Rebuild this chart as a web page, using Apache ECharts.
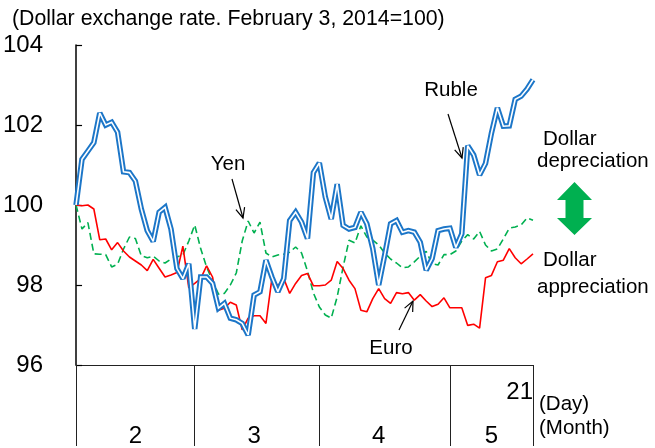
<!DOCTYPE html>
<html>
<head>
<meta charset="utf-8">
<script src="https://cdn.jsdelivr.net/npm/echarts@6/dist/echarts.min.js"></script>
<style>
  html, body { margin: 0; padding: 0; background: #fff; }
  #main { width: 655px; height: 448px; }
</style>
</head>
<body>
<div id="main"></div>
<script>
// trading days, Feb 3 - May 21, 2014
var dates = [
  '2/3','2/4','2/5','2/6','2/7','2/10','2/11','2/12','2/13','2/14','2/17','2/18','2/19','2/20','2/21','2/24','2/25','2/26','2/27','2/28',
  '3/3','3/4','3/5','3/6','3/7','3/10','3/11','3/12','3/13','3/14','3/17','3/18','3/19','3/20','3/21','3/24','3/25','3/26','3/27','3/28','3/31',
  '4/1','4/2','4/3','4/4','4/7','4/8','4/9','4/10','4/11','4/14','4/15','4/16','4/17','4/18','4/21','4/22','4/23','4/24','4/25','4/28','4/29','4/30',
  '5/1','5/2','5/5','5/6','5/7','5/8','5/9','5/12','5/13','5/14','5/15','5/16','5/19','5/20','5/21'
];

var ruble = [100.0, 101.14, 101.35, 101.56, 102.3, 102.0, 102.07, 101.82, 100.83, 100.81,
  100.6, 99.9, 99.36, 99.09, 99.82, 99.94, 99.4, 98.41, 98.16, 98.53,
  96.9, 98.2, 98.2, 98.04, 97.42, 97.54, 97.17, 97.13, 97.04, 96.75,
  97.75, 97.83, 98.62, 98.2, 97.83, 98.16, 99.61, 99.82, 99.57, 99.16,
  100.81, 101.05, 100.2, 99.65, 100.52, 99.49, 99.4, 99.44, 99.82, 99.53,
  98.91, 98.0, 98.74, 99.53, 99.61, 99.32, 99.36, 99.32, 99.07, 98.37,
  98.66, 99.36, 99.4, 99.42, 98.94, 99.28, 101.48, 101.25, 100.75, 101.04,
  101.8, 102.43, 101.97, 101.98, 102.64, 102.72, 102.9, 103.13];

var euro = [100.0, 99.98, 100.0, 99.9, 99.13, 99.15, 98.88, 99.06, 98.85, 98.7,
  98.6, 98.5, 98.36, 98.64, 98.42, 98.2, 98.25, 98.31, 98.97, 97.93,
  98.04, 98.16, 98.48, 98.2, 97.37, 97.42, 97.57, 97.5, 96.88, 97.17,
  97.23, 97.23, 97.04, 98.16, 97.98, 98.16, 97.79, 98.04, 98.24, 98.29,
  97.98, 97.98, 98.0, 98.12, 98.59, 98.41, 98.12, 97.91, 97.37, 97.33,
  97.66, 97.91, 97.66, 97.54, 97.81, 97.78, 97.81, 97.62, 97.76, 97.6,
  97.46, 97.52, 97.68, 97.43, 97.43, 97.43, 96.99, 97.02, 96.92, 98.18,
  98.24, 98.58, 98.62, 98.91, 98.68, 98.53, 98.65, 98.78];

var yen = [100.0, 99.4, 99.56, 98.78, 98.77, 98.76, 98.45, 98.52, 98.9, 99.2,
  99.16, 98.73, 98.68, 98.72, 98.6, 98.55, 98.65, 98.7, 98.75, 99.1,
  99.5, 98.91, 98.45, 98.1, 97.77, 97.79, 98.0, 98.3, 99.1, 99.6,
  99.3, 99.57, 98.8, 98.7, 98.75, 98.77, 98.82, 98.95, 98.8, 98.35,
  97.8, 97.45, 97.25, 97.17, 97.7, 98.45, 99.12, 99.05, 99.48, 99.2,
  99.12, 99.0, 98.8, 98.65, 98.55, 98.43, 98.45, 98.58, 98.72, 98.84,
  98.53, 98.5, 98.76, 98.76, 98.85, 99.1, 99.26, 99.15, 99.34, 99.0,
  98.85, 98.9, 99.15, 99.42, 99.45, 99.5, 99.68, 99.62];

var yTicks = [96, 98, 100, 102, 104];
var monthLabelAt = [10, 30, 51, 70];   // where the month numbers sit

var numFont = "'Liberation Sans Narrow', 'Liberation Sans', Arial, sans-serif";
var txtFont = "'Liberation Sans', Arial, sans-serif";

// first trading day of every month + the last day -> table borders
var lastIdx = dates.length - 1;
var monthStarts = [];
dates.forEach(function (d, i) {
  if (i === 0 || d.split('/')[0] !== dates[i - 1].split('/')[0]) monthStarts.push(i);
});

function arrow(x1, y1, x2, y2) {
  var a = Math.atan2(y2 - y1, x2 - x1), L = 11, w = 0.42;
  return [
    { type: 'line', shape: { x1: x1, y1: y1, x2: x2, y2: y2 }, style: { stroke: '#000', lineWidth: 1.2 } },
    { type: 'polyline', shape: { points: [
        [x2 - L * Math.cos(a - w), y2 - L * Math.sin(a - w)], [x2, y2],
        [x2 - L * Math.cos(a + w), y2 - L * Math.sin(a + w)]] },
      style: { stroke: '#000', lineWidth: 1.2, fill: null } }
  ];
}

function label(text, x, y, size, align) {
  return { type: 'text', x: x, y: y, style: { text: text, fill: '#000', font: size + 'px ' + txtFont,
    textAlign: align || 'left', textVerticalAlign: 'middle' } };
}

var myChart = echarts.init(document.getElementById('main'));
myChart.setOption({
  animation: false,
  backgroundColor: '#fff',
  title: {
    text: '(Dollar exchange rate. February 3, 2014=100)',
    left: 12, top: 9, padding: 0,
    textStyle: { fontSize: 21.3, fontWeight: 'normal', color: '#000', fontFamily: txtFont }
  },
  grid: { left: 75, right: 122, top: 45, bottom: 81, containLabel: false },
  xAxis: [
    {
      type: 'category',
      data: dates,
      boundaryGap: false,
      axisLine: { lineStyle: { color: '#222', width: 1 } },
      axisTick: {
        show: true, length: 81, inside: false,
        interval: function (i) { return monthStarts.indexOf(i) >= 0 || i === lastIdx; },
        lineStyle: { color: '#222', width: 1 }
      },
      axisLabel: {
        interval: function (i) { return monthLabelAt.indexOf(i) >= 0; },
        formatter: function (v) { return v.split('/')[0]; },
        margin: 59, fontSize: 24, color: '#000', fontFamily: numFont
      },
      splitLine: { show: false }
    },
    {
      type: 'category',
      data: dates,
      boundaryGap: false,
      position: 'bottom',
      axisLine: { show: false },
      axisTick: { show: false },
      axisLabel: {
        interval: function (i) { return i === lastIdx; },
        formatter: function (v) { return v.split('/')[1]; },
        align: 'right', margin: 15, fontSize: 24, color: '#000', fontFamily: numFont
      },
      splitLine: { show: false }
    }
  ],
  yAxis: {
    type: 'value',
    min: yTicks[0], max: yTicks[yTicks.length - 1], interval: 2,
    axisLine: { show: true, lineStyle: { color: '#000', width: 1.5 } },
    axisTick: { show: true, inside: true, length: 6, lineStyle: { color: '#000', width: 1.2 } },
    axisLabel: { margin: 33, fontSize: 24, color: '#000', fontFamily: numFont },
    splitLine: { show: false }
  },
  series: [
    {
      name: 'Yen', type: 'line', data: yen, symbol: 'none', z: 2,
      lineStyle: { color: '#00B050', width: 1.6, type: [7, 4] }
    },
    {
      name: 'Euro', type: 'line', data: euro, symbol: 'none', z: 3,
      lineStyle: { color: '#FF0000', width: 1.6 }
    },
    {
      name: 'Ruble', type: 'line', data: ruble, symbol: 'none', z: 4,
      lineStyle: { color: '#1C76C8', width: 5.5, join: 'miter', miterLimit: 2 }
    },
    {
      name: 'Ruble inner', type: 'line', data: ruble, symbol: 'none', z: 5,
      lineStyle: { color: '#fff', width: 1.6, join: 'miter', miterLimit: 2 }
    }
  ],
  graphic: [].concat(
    [
      label('Ruble', 451, 90, 20.5, 'center'),
      label('Yen', 228, 164, 20.5, 'center'),
      label('Euro', 391, 348, 20.5, 'center'),
      label('Dollar', 543, 139, 20.5),
      label('depreciation', 537, 161, 20.5),
      label('Dollar', 543, 260, 20.5),
      label('appreciation', 537, 287, 20.5),
      label('(Day)', 539, 404, 20.5),
      label('(Month)', 539, 428, 20.5),
      {
        type: 'polygon',
        shape: { points: [[574.5, 182], [592, 200], [583.5, 200], [583.5, 218], [592, 218],
          [574.5, 235], [557, 218], [565.5, 218], [565.5, 200], [557, 200]] },
        style: { fill: '#00B050' }
      }
    ],
    arrow(448, 114, 462, 158),
    arrow(232, 179, 243, 218),
    arrow(399, 330, 413, 301)
  )
});
</script>
</body>
</html>
